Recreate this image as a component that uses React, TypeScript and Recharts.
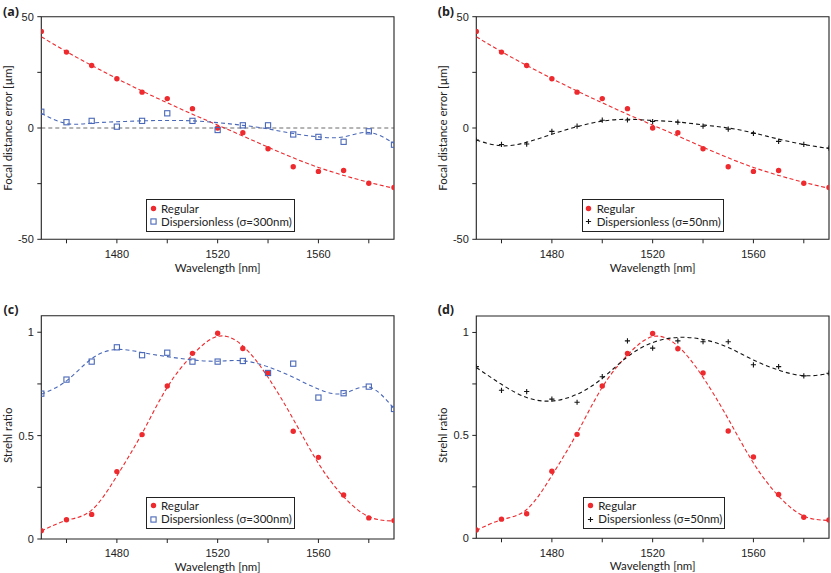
import React from 'react';
import {
  ComposedChart,
  Line,
  Scatter,
  XAxis,
  YAxis,
  ReferenceLine,
  ReferenceArea,
  Legend,
  Label,
} from 'recharts';

// ---------- data ----------
const WAVELENGTH = [1450, 1460, 1470, 1480, 1490, 1500, 1510, 1520, 1530, 1540, 1550, 1560, 1570, 1580, 1590];
const X_DOMAIN: [number, number] = [1450, 1590];
const X_TICKS = [1460, 1480, 1500, 1520, 1540, 1560, 1580];
const X_TICK_LABELS = [1480, 1520, 1560];

const FOCAL_DOMAIN: [number, number] = [-50, 50];
const FOCAL_TICKS = [-50, -25, 0, 25, 50];
const FOCAL_TICK_LABELS = [-50, 0, 50];

const STREHL_DOMAIN: [number, number] = [0, 1.08];
const STREHL_TICKS = [0, 0.25, 0.5, 0.75, 1];
const STREHL_TICK_LABELS = [0, 0.5, 1];

const FOCAL_REGULAR = [43.4, 34.1, 28.1, 22.1, 16.1, 13.2, 8.7, 0, -2.1, -9.3, -17.4, -19.5, -19.1, -24.8, -26.7];
const FOCAL_REGULAR_FIT = [41, 34.3, 28.1, 22.2, 16.6, 11.3, 6.2, 1.3, -3.6, -8.6, -13.4, -17.7, -21.3, -24.4, -27.1];
const FOCAL_DISP300 = [7.3, 2.6, 3.2, 0.6, 3.2, 6.6, 3.2, -0.9, 1.2, 1.2, -2.9, -4.0, -6.2, -1.5, -7.5];
const FOCAL_DISP300_FIT = [6.6, 2.0, 2.2, 2.8, 3.2, 3.4, 3.2, 2.4, 1.2, -0.4, -2.5, -4.0, -4.0, -2.0, -6.9];
const FOCAL_DISP50 = [-5.4, -7.4, -7.2, -1.5, 0.8, 3.5, 3.6, 2.9, 2.6, 0.8, -0.5, -2.4, -6.0, -7.4, -9.0];
const FOCAL_DISP50_FIT = [-5.4, -8.0, -6.4, -2.8, 0.6, 3.1, 3.9, 3.4, 2.7, 1.4, 0, -2.2, -5.0, -7.4, -9.2];

const STREHL_REGULAR = [0.04, 0.093, 0.119, 0.326, 0.505, 0.74, 0.898, 0.995, 0.921, 0.803, 0.521, 0.395, 0.213, 0.102, 0.089];
const STREHL_REGULAR_FIT = [0.038, 0.09, 0.14, 0.305, 0.511, 0.734, 0.89, 0.98, 0.934, 0.782, 0.58, 0.366, 0.205, 0.108, 0.087];
const STREHL_DISP300 = [0.703, 0.771, 0.858, 0.927, 0.889, 0.901, 0.858, 0.858, 0.861, 0.803, 0.848, 0.684, 0.705, 0.737, 0.629];
const STREHL_DISP300_FIT = [0.7, 0.765, 0.872, 0.917, 0.902, 0.882, 0.866, 0.86, 0.862, 0.833, 0.782, 0.725, 0.704, 0.735, 0.63];
const STREHL_DISP50 = [0.834, 0.719, 0.713, 0.676, 0.661, 0.785, 0.959, 0.924, 0.959, 0.955, 0.955, 0.843, 0.834, 0.789, 0.802];
const STREHL_DISP50_FIT = [0.83, 0.748, 0.684, 0.667, 0.7, 0.777, 0.882, 0.951, 0.976, 0.966, 0.927, 0.866, 0.817, 0.79, 0.8];

const LABEL_REGULAR = 'Regular';
const LABEL_DISP300 = 'Dispersionless (\u03c3=300nm)';
const LABEL_DISP50 = 'Dispersionless (\u03c3=50nm)';
const TITLE_X = 'Wavelength [nm]';
const TITLE_FOCAL = 'Focal distance error [\u00b5m]';
const TITLE_STREHL = 'Strehl ratio';

// ---------- styles ----------
const RED = '#ee2a2e';
const BLUE = '#4a68b8';
const BLACK = '#141414';
const AXIS = '#222';
const TICK_FONT = { fontFamily: '"Liberation Sans", Arial, sans-serif', fontSize: 11, fill: AXIS };
const TITLE_FONT: React.CSSProperties = { fontFamily: 'Lato, "Open Sans", sans-serif', fontSize: 11.5 };

type Pt = { x: number; y: number };
const pts = (ys: number[]): Pt[] => WAVELENGTH.map((x, i) => ({ x, y: ys[i] }));

type Marker = 'dot' | 'square' | 'plus';

const markerShape = (kind: Marker, color: string) => (p: any) => {
  const cx = p.cx;
  const cy = p.cy;
  if (cx == null || cy == null) return <g />;
  if (kind === 'dot') return <circle cx={cx} cy={cy} r={2.7} fill={color} />;
  if (kind === 'square')
    return <rect x={cx - 2.6} y={cy - 2.6} width={5.2} height={5.2} fill="none" stroke={color} strokeWidth={1.1} />;
  return (
    <path
      d={`M${cx - 2.6},${cy}H${cx + 2.6}M${cx},${cy - 2.6}V${cy + 2.6}`}
      stroke={color}
      strokeWidth={1.1}
      fill="none"
    />
  );
};

const LegendMarker = ({ kind, color }: { kind: Marker; color: string }) => (
  <svg width={9} height={9} style={{ display: 'block', flex: 'none' }}>
    {kind === 'dot' && <circle cx={4.5} cy={4.5} r={2.7} fill={color} />}
    {kind === 'square' && <rect x={1.9} y={1.9} width={5.2} height={5.2} fill="none" stroke={color} strokeWidth={1.1} />}
    {kind === 'plus' && <path d="M1.9,4.5H7.1M4.5,1.9V7.1" stroke={color} strokeWidth={1.1} />}
  </svg>
);

type Series = { name: string; values: number[]; fit: number[]; color: string; marker: Marker; dash: string };

type PanelSpec = {
  tag: string;
  left: number;
  top: number;
  width: number;
  height: number;
  mTop: number;
  mRight: number;
  mBottom: number;
  yDomain: [number, number];
  yTicks: number[];
  yTickLabels: number[];
  yTitle: string;
  yTitleX: number;
  yTitleShift: number;
  xTitleDy: number;
  zero: boolean;
  series: Series[];
  legendLeft: number;
  legendTop: number;
  tagLeft: number;
  tagTop: number;
};

const REG_FOCAL: Series = { name: LABEL_REGULAR, values: FOCAL_REGULAR, fit: FOCAL_REGULAR_FIT, color: RED, marker: 'dot', dash: '4 2.5' };
const D300_FOCAL: Series = { name: LABEL_DISP300, values: FOCAL_DISP300, fit: FOCAL_DISP300_FIT, color: BLUE, marker: 'square', dash: '4 3' };
const D50_FOCAL: Series = { name: LABEL_DISP50, values: FOCAL_DISP50, fit: FOCAL_DISP50_FIT, color: BLACK, marker: 'plus', dash: '4 3' };
const REG_STREHL: Series = { name: LABEL_REGULAR, values: STREHL_REGULAR, fit: STREHL_REGULAR_FIT, color: RED, marker: 'dot', dash: '4 2.5' };
const D300_STREHL: Series = { name: LABEL_DISP300, values: STREHL_DISP300, fit: STREHL_DISP300_FIT, color: BLUE, marker: 'square', dash: '4 3' };
const D50_STREHL: Series = { name: LABEL_DISP50, values: STREHL_DISP50, fit: STREHL_DISP50_FIT, color: BLACK, marker: 'plus', dash: '4 3' };

const PANELS: PanelSpec[] = [
  {
    tag: '(a)', left: 0, top: 0, width: 415, height: 290, mTop: 16.7, mRight: 21, mBottom: 20.7,
    yDomain: FOCAL_DOMAIN, yTicks: FOCAL_TICKS, yTickLabels: FOCAL_TICK_LABELS, yTitle: TITLE_FOCAL,
    yTitleX: 7, yTitleShift: 0, xTitleDy: 28, zero: true, series: [REG_FOCAL, D300_FOCAL],
    legendLeft: 146, legendTop: 199.3, tagLeft: 3, tagTop: 5,
  },
  {
    tag: '(b)', left: 434.9, top: 0, width: 396, height: 290, mTop: 16.7, mRight: 2, mBottom: 20.7,
    yDomain: FOCAL_DOMAIN, yTicks: FOCAL_TICKS, yTickLabels: FOCAL_TICK_LABELS, yTitle: TITLE_FOCAL,
    yTitleX: 7, yTitleShift: 0, xTitleDy: 28, zero: false, series: [REG_FOCAL, D50_FOCAL],
    legendLeft: 146.8, legendTop: 199.3, tagLeft: 437.7, tagTop: 5,
  },
  {
    tag: '(c)', left: 0, top: 290, width: 415, height: 283, mTop: 25.7, mRight: 21, mBottom: 4,
    yDomain: STREHL_DOMAIN, yTicks: STREHL_TICKS, yTickLabels: STREHL_TICK_LABELS, yTitle: TITLE_STREHL,
    yTitleX: 7.8, yTitleShift: 8, xTitleDy: 27, zero: false, series: [REG_STREHL, D300_STREHL],
    legendLeft: 146, legendTop: 206.7, tagLeft: 3.5, tagTop: 303,
  },
  {
    tag: '(d)', left: 434.9, top: 290, width: 396, height: 283, mTop: 26, mRight: 2, mBottom: 4.7,
    yDomain: STREHL_DOMAIN, yTicks: STREHL_TICKS, yTickLabels: STREHL_TICK_LABELS, yTitle: TITLE_STREHL,
    yTitleX: 7.8, yTitleShift: 8, xTitleDy: 27, zero: false, series: [REG_STREHL, D50_STREHL],
    legendLeft: 148.4, legendTop: 206.7, tagLeft: 437.7, tagTop: 303,
  },
];

const yTitleContent = (text: string, xOff: number, shift: number) => (props: any) => {
  const vb = props.viewBox || { x: 0, y: 0, width: 0, height: 0 };
  const cx = vb.x + xOff;
  const cy = vb.y + vb.height / 2 + shift;
  return (
    <text
      transform={`translate(${cx},${cy}) rotate(-90)`}
      textAnchor="middle"
      dominantBaseline="central"
      fill={AXIS}
      style={TITLE_FONT}
    >
      {text}
    </text>
  );
};

const xTitleContent = (text: string, dy: number) => (props: any) => {
  const vb = props.viewBox || { x: 0, y: 0, width: 0, height: 0 };
  return (
    <text
      x={vb.x + vb.width / 2}
      y={vb.y + dy}
      textAnchor="middle"
      dominantBaseline="central"
      fill={AXIS}
      style={TITLE_FONT}
    >
      {text}
    </text>
  );
};

const LegendBox = ({ series }: { series: Series[] }) => (
  <div
    style={{
      display: 'inline-block',
      border: `1px solid ${AXIS}`,
      background: '#fff',
      padding: '1.5px 2px 2.5px 1.5px',
      fontFamily: TITLE_FONT.fontFamily as string,
      fontSize: 11.5,
      lineHeight: '13.3px',
      color: AXIS,
      whiteSpace: 'nowrap',
    }}
  >
    {series.map((s) => (
      <div key={s.name} style={{ display: 'flex', alignItems: 'center' }}>
        <LegendMarker kind={s.marker} color={s.color} />
        <span style={{ marginLeft: 3.5 }}>{s.name}</span>
      </div>
    ))}
  </div>
);

const Panel = ({ p }: { p: PanelSpec }) => (
  <div style={{ position: 'absolute', left: p.left, top: p.top, width: p.width, height: p.height }}>
    <ComposedChart
      width={p.width}
      height={p.height}
      margin={{ top: p.mTop, right: p.mRight, bottom: p.mBottom, left: 0 }}
    >
      <XAxis
        dataKey="x"
        type="number"
        domain={X_DOMAIN}
        allowDataOverflow
        ticks={X_TICKS}
        interval={0}
        tickFormatter={(v: number) => (X_TICK_LABELS.includes(v) ? String(v) : '')}
        height={30}
        tickSize={4}
        tickMargin={6.5}
        axisLine={false}
        tickLine={{ stroke: AXIS, strokeWidth: 1 }}
        tick={TICK_FONT}
      >
        <Label content={xTitleContent(TITLE_X, p.xTitleDy)} />
      </XAxis>
      <YAxis
        type="number"
        domain={p.yDomain}
        allowDataOverflow
        ticks={p.yTicks}
        interval={0}
        tickFormatter={(v: number) => (p.yTickLabels.includes(v) ? String(v) : '')}
        width={41.3}
        tickSize={4}
        tickMargin={3.5}
        axisLine={false}
        tickLine={{ stroke: AXIS, strokeWidth: 1 }}
        tick={TICK_FONT}
      >
        <Label content={yTitleContent(p.yTitle, p.yTitleX, p.yTitleShift)} />
      </YAxis>
      {p.zero && (
        <ReferenceLine y={0} stroke="#444" strokeWidth={0.8} strokeDasharray="4 3" ifOverflow="visible" />
      )}
      {p.series.map((s) => (
        <Line
          key={'fit-' + s.name}
          data={pts(s.fit)}
          dataKey="y"
          type="natural"
          stroke={s.color}
          strokeWidth={1.1}
          strokeDasharray={s.dash}
          dot={false}
          activeDot={false}
          legendType="none"
          isAnimationActive={false}
        />
      ))}
      <ReferenceArea
        x1={X_DOMAIN[0]}
        x2={X_DOMAIN[1]}
        y1={p.yDomain[0]}
        y2={p.yDomain[1]}
        fill="none"
        fillOpacity={0}
        stroke={AXIS}
        strokeWidth={1.1}
        ifOverflow="visible"
      />
      {p.series.map((s) => (
        <Scatter
          key={'pts-' + s.name}
          name={s.name}
          data={pts(s.values)}
          dataKey="y"
          shape={markerShape(s.marker, s.color)}
          isAnimationActive={false}
        />
      ))}
      <Legend
        layout="vertical"
        align="center"
        verticalAlign="middle"
        wrapperStyle={{ left: p.legendLeft, top: p.legendTop, width: 'auto', height: 'auto' }}
        content={() => <LegendBox series={p.series} />}
      />
    </ComposedChart>
  </div>
);

export default function App() {
  return (
    <div style={{ position: 'absolute', left: 0, top: 0, width: 831, height: 573, background: '#fff', overflow: 'hidden' }}>
      {PANELS.map((p) => (
        <Panel key={p.tag} p={p} />
      ))}
      {PANELS.map((p) => (
        <div
          key={'tag' + p.tag}
          style={{
            position: 'absolute',
            left: p.tagLeft,
            top: p.tagTop,
            fontFamily: '"Open Sans", sans-serif',
            fontWeight: 700,
            fontSize: 12.5,
            lineHeight: '14px',
            color: '#222',
          }}
        >
          {p.tag}
        </div>
      ))}
    </div>
  );
}
